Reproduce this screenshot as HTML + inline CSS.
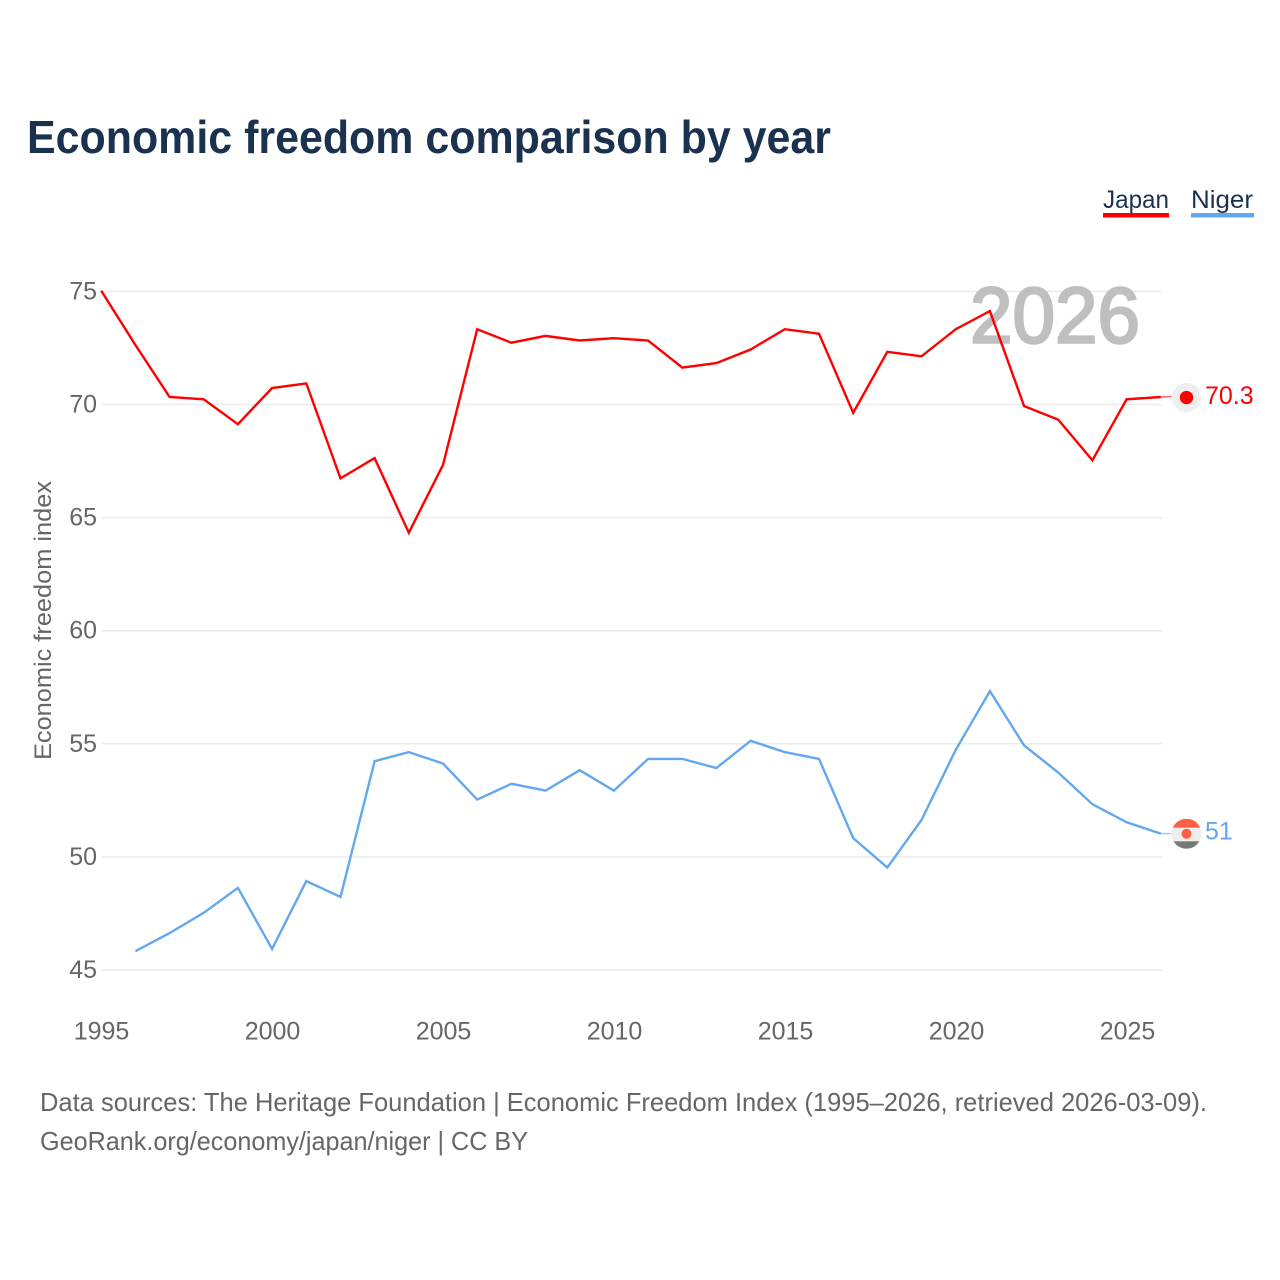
<!DOCTYPE html>
<html lang="en">
<head>
<meta charset="utf-8">
<title>Economic freedom comparison by year</title>
<style>
  html, body { margin: 0; padding: 0; background: #fff; }
  svg { display: block; font-family: "Liberation Sans", sans-serif; }
</style>
</head>
<body>
<svg id="chart" xmlns="http://www.w3.org/2000/svg" width="1280" height="1280" viewBox="0 0 1280 1280">
  <rect width="1280" height="1280" fill="#fff"/>
  <text x="27" y="153" font-size="46" font-weight="700" fill="#1a3150" textLength="804" lengthAdjust="spacingAndGlyphs">Economic freedom comparison by year</text>

  <g id="grid"></g>
  <text id="year-watermark" x="1055" y="342.5" text-anchor="middle" font-size="79" font-weight="400" fill="#bfbfbf" stroke="#bfbfbf" stroke-width="2.5" textLength="170" lengthAdjust="spacingAndGlyphs">2026</text>
  <g id="y-ticks"></g>
  <g id="x-ticks"></g>
  <text transform="translate(51,620.5) rotate(-90)" text-anchor="middle" font-size="24" fill="#666" textLength="279" lengthAdjust="spacingAndGlyphs">Economic freedom index</text>

  <g id="series"></g>

  <g>
    <text x="1103" y="208" font-size="25" fill="#1a3150" textLength="66" lengthAdjust="spacingAndGlyphs">Japan</text>
    <rect x="1103" y="213" width="66" height="4.5" fill="#ff0000"/>
  </g>
  <g>
    <text x="1191" y="208" font-size="25" fill="#1a3150" textLength="62" lengthAdjust="spacingAndGlyphs">Niger</text>
    <rect x="1191" y="213" width="63" height="4.5" fill="#63a8ef"/>
  </g>

  <defs>
    <clipPath id="flag-clip"><circle cx="0" cy="0" r="15"/></clipPath>
  </defs>
  <g id="markers"></g>

  <text x="40" y="1111" font-size="26" fill="#666" textLength="1167" lengthAdjust="spacingAndGlyphs">Data sources: The Heritage Foundation | Economic Freedom Index (1995–2026, retrieved 2026-03-09).</text>
  <text x="40" y="1150" font-size="26" fill="#666" textLength="488" lengthAdjust="spacingAndGlyphs">GeoRank.org/economy/japan/niger | CC BY</text>
</svg>
<script>
const years = [1995,1996,1997,1998,1999,2000,2001,2002,2003,2004,2005,2006,2007,2008,2009,2010,2011,2012,2013,2014,2015,2016,2017,2018,2019,2020,2021,2022,2023,2024,2025,2026];
const japanValues = [75.0,72.6,70.3,70.2,69.1,70.7,70.9,66.7,67.6,64.3,67.3,73.3,72.7,73.0,72.8,72.9,72.8,71.6,71.8,72.4,73.3,73.1,69.6,72.3,72.1,73.3,74.1,69.9,69.3,67.5,70.2,70.3];
const nigerValues = [null,45.8,46.6,47.5,48.6,45.9,48.9,48.2,54.2,54.6,54.1,52.5,53.2,52.9,53.8,52.9,54.3,54.3,53.9,55.1,54.6,54.3,50.8,49.5,51.6,54.7,57.3,54.9,53.7,52.3,51.5,51.0];
const yTicks = [45,50,55,60,65,70,75];
const xTicks = [1995,2000,2005,2010,2015,2020,2025];

const NS = 'http://www.w3.org/2000/svg';
const xScale = function (year) { return 102 + (year - 1995) * 34.2; };
const yScale = function (value) { return 970 - (value - 45) * 22.62; };
const lineX = function (year) { return 101.2 + (year - 1995) * 34.18; };
const lineY = function (value) { return yScale(value) - 0.7; };
function make(tag, parent, attrs) {
  const el = document.createElementNS(NS, tag);
  for (const k in attrs) el.setAttribute(k, attrs[k]);
  parent.appendChild(el);
  return el;
}

const grid = document.getElementById('grid');
const yTickGroup = document.getElementById('y-ticks');
const xTickGroup = document.getElementById('x-ticks');
yTicks.forEach(function (t) {
  const line = make('line', grid, { x1: 102, x2: 1162, y1: yScale(t), y2: yScale(t), stroke: '#ebebeb', 'stroke-width': 1.5 });
  
  
  const label = make('text', yTickGroup, { x: 97, y: yScale(t) + 8, 'text-anchor': 'end', 'font-size': 25, fill: '#666' });
  
  
  label.textContent = t;
});
xTicks.forEach(function (t) {
  const label = make('text', xTickGroup, { x: xScale(t) - 0.5, y: 1039.5, 'text-anchor': 'middle', 'font-size': 25, fill: '#666' });
  
  
  label.textContent = t;
});

function pathFor(values) {
  const pts = [];
  values.forEach(function (v, i) {
    if (v !== null) pts.push(lineX(years[i]).toFixed(1) + ',' + lineY(v).toFixed(1));
  });
  return 'M' + pts.join('L');
}
const seriesGroup = document.getElementById('series');
const japanLine = make('path', seriesGroup, { d: pathFor(japanValues), fill: 'none', stroke: '#ff0000', 'stroke-width': 2.4, 'stroke-linejoin': 'miter' });


const nigerLine = make('path', seriesGroup, { d: pathFor(nigerValues), fill: 'none', stroke: '#63a8ef', 'stroke-width': 2.4, 'stroke-linejoin': 'miter' });



const markers = document.getElementById('markers');
const lastYear = years[years.length - 1];
const japanLast = japanValues[japanValues.length - 1];
const nigerLast = nigerValues[nigerValues.length - 1];
const markerX = xScale(lastYear) + 24.3;

const jy = lineY(japanLast);
const japanLead = make('line', markers, { x1: lineX(lastYear), x2: markerX - 15, y1: jy, y2: jy - 0.5, stroke: '#ff0000', 'stroke-width': 1.5, opacity: 0.6 });


const japanFlag = make('g', markers, { transform: 'translate(' + markerX + ',' + (jy + 0.5) + ')' });


make('circle', japanFlag, { r: 14.5, fill: '#eeeeee' });
make('circle', japanFlag, { r: 6.7, fill: '#ff0000' });
const japanValue = make('text', markers, { x: 1205, y: jy + 7, 'font-size': 25, fill: '#ff0000' });


japanValue.textContent = japanLast.toFixed(1);

const ny = lineY(nigerLast);
const nigerLead = make('line', markers, { x1: lineX(lastYear), x2: markerX - 15, y1: ny, y2: ny, stroke: '#63a8ef', 'stroke-width': 1.5, opacity: 0.6 });


const nigerFlag = make('g', markers, { transform: 'translate(' + markerX + ',' + (ny + 0.2) + ')', 'clip-path': 'url(#flag-clip)' });


make('rect', nigerFlag, { x: -15, y: -15, width: 30, height: 9, fill: '#ff5f45' });
make('rect', nigerFlag, { x: -15, y: -6, width: 30, height: 13.5, fill: '#eeeeee' });
make('rect', nigerFlag, { x: -15, y: 7.5, width: 30, height: 7.5, fill: '#767a72' });
make('circle', nigerFlag, { r: 5, fill: '#ff5f45' });
const nigerValue = make('text', markers, { x: 1205, y: ny + 6, 'font-size': 25, fill: '#63a8ef' });


nigerValue.textContent = String(nigerLast);
</script>
</body>
</html>
